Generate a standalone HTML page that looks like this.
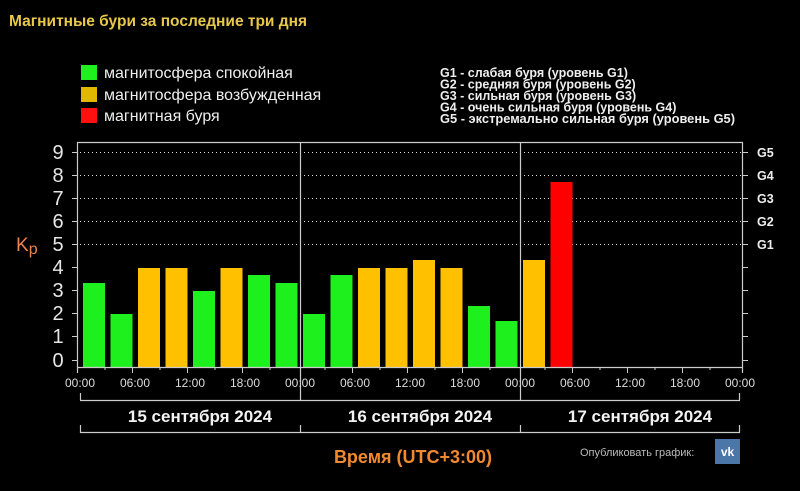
<!DOCTYPE html>
<html><head><meta charset="utf-8"><style>
html,body{margin:0;padding:0;background:#000;width:800px;height:491px;overflow:hidden}
svg{display:block}
text{font-family:"Liberation Sans","DejaVu Sans",sans-serif}
</style></head><body>
<svg width="800" height="491" viewBox="0 0 800 491" xmlns="http://www.w3.org/2000/svg">
<rect width="800" height="491" fill="#000"/>
<text x="9" y="26" font-size="15.5" font-weight="bold" fill="#e8c84a">Магнитные бури за последние три дня</text>
<rect x="81" y="65" width="16" height="15" fill="#1ef01e"/>
<rect x="81" y="87" width="16" height="15" fill="#e0b800"/>
<rect x="81" y="108" width="16" height="15" fill="#ff1010"/>
<g font-size="16" fill="#eee">
<text x="104" y="78">магнитосфера спокойная</text>
<text x="104" y="100">магнитосфера возбужденная</text>
<text x="104" y="121">магнитная буря</text>
</g>
<g font-size="12.5" font-weight="bold" fill="#eee">
<text x="440" y="77">G1 - слабая буря (уровень G1)</text>
<text x="440" y="88.5">G2 - средняя буря (уровень G2)</text>
<text x="440" y="100">G3 - сильная буря (уровень G3)</text>
<text x="440" y="111.5">G4 - очень сильная буря (уровень G4)</text>
<text x="440" y="123" textLength="295" lengthAdjust="spacingAndGlyphs">G5 - экстремально сильная буря (уровень G5)</text>
</g>
<g stroke="#ddd" stroke-width="1" stroke-dasharray="1,3">
<line x1="80" y1="152.5" x2="743" y2="152.5"/>
<line x1="80" y1="175.5" x2="743" y2="175.5"/>
<line x1="80" y1="198.5" x2="743" y2="198.5"/>
<line x1="80" y1="221.5" x2="743" y2="221.5"/>
<line x1="80" y1="244.5" x2="743" y2="244.5"/>
</g>
<g>
<rect x="83" y="283" width="22" height="84" fill="#1ef01e"/>
<rect x="110.5" y="314" width="22" height="53" fill="#1ef01e"/>
<rect x="138" y="268" width="22" height="99" fill="#ffc000"/>
<rect x="165.5" y="268" width="22" height="99" fill="#ffc000"/>
<rect x="193" y="291" width="22" height="76" fill="#1ef01e"/>
<rect x="220.5" y="268" width="22" height="99" fill="#ffc000"/>
<rect x="248" y="275" width="22" height="92" fill="#1ef01e"/>
<rect x="275.5" y="283" width="22" height="84" fill="#1ef01e"/>
<rect x="303" y="314" width="22" height="53" fill="#1ef01e"/>
<rect x="330.5" y="275" width="22" height="92" fill="#1ef01e"/>
<rect x="358" y="268" width="22" height="99" fill="#ffc000"/>
<rect x="385.5" y="268" width="22" height="99" fill="#ffc000"/>
<rect x="413" y="260" width="22" height="107" fill="#ffc000"/>
<rect x="440.5" y="268" width="22" height="99" fill="#ffc000"/>
<rect x="468" y="306" width="22" height="61" fill="#1ef01e"/>
<rect x="495.5" y="321" width="22" height="46" fill="#1ef01e"/>
<rect x="523" y="260" width="22" height="107" fill="#ffc000"/>
<rect x="550.5" y="182" width="22" height="185" fill="#ff0000"/>
</g>
<g stroke="#ccc" stroke-width="1.2" fill="none">
<polyline points="77.5,373 77.5,142.5 742.5,142.5 742.5,373"/>
<line x1="77" y1="367.5" x2="743" y2="367.5"/>
<line x1="300.5" y1="142" x2="300.5" y2="400"/>
<line x1="520.5" y1="142" x2="520.5" y2="400"/>
<line x1="80.5" y1="393" x2="80.5" y2="400"/>
<line x1="739.5" y1="393" x2="739.5" y2="400"/>
<line x1="80" y1="400.5" x2="740" y2="400.5"/>
<line x1="80" y1="432.5" x2="740" y2="432.5"/>
<line x1="80.5" y1="425" x2="80.5" y2="433"/>
<line x1="300.5" y1="425" x2="300.5" y2="433"/>
<line x1="520.5" y1="425" x2="520.5" y2="433"/>
<line x1="739.5" y1="425" x2="739.5" y2="433"/>
</g>
<g stroke="#ccc" stroke-width="1">
<path d="M72 152.5h5M72 175.5h5M72 198.5h5M72 221.5h5M72 244.5h5M72 267.5h5M72 290.5h5M72 313.5h5M72 336.5h5M72 360.5h5"/>
<path d="M743 152.5h5M743 175.5h5M743 198.5h5M743 221.5h5M743 244.5h5M743 267.5h5M743 290.5h5M743 313.5h5M743 336.5h5M743 360.5h5"/>
<path d="M132.5 367v6M187.5 367v6M242.5 367v6M352.5 367v6M407.5 367v6M462.5 367v6M572.5 367v6M627.5 367v6M682.5 367v6"/>
<path d="M105 367v3M160 367v3M215 367v3M270 367v3M325 367v3M380 367v3M435 367v3M490 367v3M545 367v3M600 367v3M655 367v3M710 367v3"/>
</g>
<g font-size="20" fill="#e6e6e6" text-anchor="middle">
<text x="58" y="159">9</text><text x="58" y="182">8</text><text x="58" y="205">7</text>
<text x="58" y="228">6</text><text x="58" y="251">5</text><text x="58" y="274">4</text>
<text x="58" y="297">3</text><text x="58" y="320">2</text><text x="58" y="343">1</text>
<text x="58" y="367">0</text>
</g>
<text x="16" y="251" font-size="19" fill="#e8844a">K<tspan font-size="16" dy="3">p</tspan></text>
<g font-size="12.5" font-weight="bold" fill="#eee">
<text x="757" y="157">G5</text><text x="757" y="180">G4</text><text x="757" y="203">G3</text>
<text x="757" y="226">G2</text><text x="757" y="249">G1</text>
</g>
<g font-size="12" fill="#ddd" text-anchor="middle">
<text x="80" y="387">00:00</text><text x="135" y="387">06:00</text><text x="190" y="387">12:00</text><text x="245" y="387">18:00</text>
<text x="300" y="387">00:00</text><text x="355" y="387">06:00</text><text x="410" y="387">12:00</text><text x="465" y="387">18:00</text>
<text x="520" y="387">00:00</text><text x="575" y="387">06:00</text><text x="630" y="387">12:00</text><text x="685" y="387">18:00</text>
<text x="740" y="387">00:00</text>
</g>
<g font-size="17" font-weight="bold" fill="#f2f2f2" text-anchor="middle">
<text x="200" y="422">15 сентября 2024</text>
<text x="420" y="422">16 сентября 2024</text>
<text x="640" y="422">17 сентября 2024</text>
</g>
<text x="413" y="463" font-size="18" font-weight="bold" fill="#f08a30" text-anchor="middle">Время (UTC+3:00)</text>
<text x="580" y="456" font-size="11" fill="#bbb">Опубликовать график:</text>
<rect x="715" y="439" width="25" height="25" fill="#4a76a8"/>
<text x="727.5" y="456" font-size="12" font-weight="bold" fill="#fff" text-anchor="middle">vk</text>
</svg>
</body></html>
